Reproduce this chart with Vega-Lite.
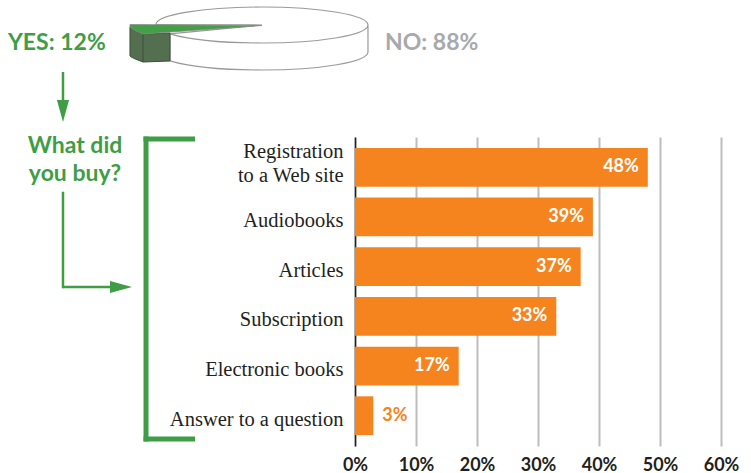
{
  "$schema": "https://vega.github.io/schema/vega-lite/v6.json",
  "width": 366,
  "height": 309,
  "autosize": "none",
  "padding": {"left": 355, "top": 137, "right": 30, "bottom": 27},
  "background": "white",
  "config": {"view": {"stroke": null}},
  "layer": [
    {
      "data": {
        "values": [
          {"item": "Registration to a Web site", "pct": 0.48},
          {"item": "Audiobooks", "pct": 0.39},
          {"item": "Articles", "pct": 0.37},
          {"item": "Subscription", "pct": 0.33},
          {"item": "Electronic books", "pct": 0.17},
          {"item": "Answer to a question", "pct": 0.03}
        ]
      },
      "encoding": {
        "y": {
          "field": "item", "type": "nominal", "sort": null,
          "scale": {"paddingInner": 0.22, "paddingOuter": 0.22},
          "axis": {
            "title": null, "ticks": false, "grid": false,
            "domain": true, "domainColor": "#231f20", "domainWidth": 1.5,
            "labelPadding": 12, "labelFont": "Liberation Serif", "labelFontSize": 20.5,
            "labelColor": "#231f20", "labelLineHeight": 24, "labelLimit": 300,
            "labelOffset": {"condition": {"test": "datum.value == 'Registration to a Web site'", "value": -15}, "value": 4},
            "labelExpr": "datum.label == 'Registration to a Web site' ? ['Registration', 'to a Web site'] : datum.label"
          }
        },
        "x": {
          "field": "pct", "type": "quantitative",
          "scale": {"domain": [0, 0.6], "nice": false, "zero": true},
          "axis": {
            "title": null, "values": [0, 0.1, 0.2, 0.3, 0.4, 0.5, 0.6], "format": ".0%",
            "grid": true, "gridColor": "#bdbdbd", "gridWidth": 2,
            "ticks": false, "domain": false, "labelPadding": 10,
            "labelFont": "Lato", "labelFontWeight": "bold", "labelFontSize": 18,
            "labelColor": "#231f20", "labelFlush": false
          }
        }
      },
      "layer": [
        {"mark": {"type": "bar", "color": "#f5841f"}},
        {
          "transform": [{"filter": "datum.pct >= 0.1"}],
          "mark": {"type": "text", "align": "right", "baseline": "middle", "dx": -9, "font": "Lato", "fontWeight": "bold", "fontSize": 18, "color": "white"},
          "encoding": {"text": {"field": "pct", "type": "quantitative", "format": ".0%"}}
        },
        {
          "transform": [{"filter": "datum.pct < 0.1"}],
          "mark": {"type": "text", "align": "left", "baseline": "middle", "dx": 9, "font": "Lato", "fontWeight": "bold", "fontSize": 18, "color": "#f5841f"},
          "encoding": {"text": {"field": "pct", "type": "quantitative", "format": ".0%"}}
        }
      ]
    },
    {
      "data": {"values": [{}]},
      "layer": [
        {
          "mark": {"type": "point", "filled": true, "opacity": 1, "size": 62500, "fill": "white", "stroke": "#9a9a9a", "strokeWidth": 1.2,
            "shape": "M0.104,-0.104 L-0.744,-0.108 C-0.744,-0.1835 -0.364,-0.248 0.104,-0.248 C0.572,-0.248 0.952,-0.1835 0.952,-0.104 L0.952,0.112 C0.952,0.1915 0.572,0.256 0.104,0.256 C-0.192,0.256 -0.472,0.232 -0.632,0.1832 L-0.632,-0.0328 Z M-0.632,-0.0328 C-0.472,0.016 -0.192,0.04 0.104,0.04 C0.572,0.04 0.952,-0.0245 0.952,-0.104"},
          "encoding": {
            "x": {"datum": -17.38, "type": "quantitative", "scale": {"domain": [0, 60], "nice": false, "zero": false}, "axis": null},
            "y": {"datum": -1.98, "type": "quantitative", "scale": {"domain": [0, 6.18], "nice": false, "zero": false, "reverse": true}, "axis": null}
          }
        },
        {
          "mark": {"type": "point", "filled": true, "opacity": 1, "size": 62500, "fill": "#546f4f", "stroke": "#3d4f3a", "strokeWidth": 1,
            "shape": "M-0.952,-0.088 C-0.936,-0.072 -0.888,-0.048 -0.848,-0.032 L-0.632,-0.04 L-0.632,0.184 L-0.848,0.192 C-0.888,0.176 -0.936,0.16 -0.952,0.144 Z"},
          "encoding": {
            "x": {"datum": -17.38, "type": "quantitative", "scale": {"domain": [0, 60], "nice": false, "zero": false}, "axis": null},
            "y": {"datum": -1.98, "type": "quantitative", "scale": {"domain": [0, 6.18], "nice": false, "zero": false, "reverse": true}, "axis": null}
          }
        },
        {
          "mark": {"type": "point", "filled": false, "opacity": 1, "size": 62500, "stroke": "#3d4f3a", "strokeWidth": 1,
            "shape": "M-0.848,-0.032 L-0.848,0.192"},
          "encoding": {
            "x": {"datum": -17.38, "type": "quantitative", "scale": {"domain": [0, 60], "nice": false, "zero": false}, "axis": null},
            "y": {"datum": -1.98, "type": "quantitative", "scale": {"domain": [0, 6.18], "nice": false, "zero": false, "reverse": true}, "axis": null}
          }
        },
        {
          "mark": {"type": "point", "filled": true, "opacity": 1, "size": 62500, "fill": "#43a047", "stroke": "#8a8a8a", "strokeWidth": 0.8,
            "shape": "M-0.952,-0.108 L0.104,-0.1 L-0.848,-0.032 C-0.888,-0.048 -0.936,-0.072 -0.952,-0.088 Z"},
          "encoding": {
            "x": {"datum": -17.38, "type": "quantitative", "scale": {"domain": [0, 60], "nice": false, "zero": false}, "axis": null},
            "y": {"datum": -1.98, "type": "quantitative", "scale": {"domain": [0, 6.18], "nice": false, "zero": false, "reverse": true}, "axis": null}
          }
        },
        {
          "mark": {"type": "text", "text": "YES: 12%", "align": "left", "baseline": "middle", "font": "Lato", "fontWeight": "bold", "fontSize": 23, "color": "#3f9d45"},
          "encoding": {
            "x": {"datum": -56.89, "type": "quantitative", "scale": {"domain": [0, 60], "nice": false, "zero": false}, "axis": null},
            "y": {"datum": -1.88, "type": "quantitative", "scale": {"domain": [0, 6.18], "nice": false, "zero": false, "reverse": true}, "axis": null}
          }
        },
        {
          "mark": {"type": "text", "text": "NO: 88%", "align": "left", "baseline": "middle", "font": "Lato", "fontWeight": "bold", "fontSize": 23, "color": "#a7a9ac"},
          "encoding": {
            "x": {"datum": 4.92, "type": "quantitative", "scale": {"domain": [0, 60], "nice": false, "zero": false}, "axis": null},
            "y": {"datum": -1.88, "type": "quantitative", "scale": {"domain": [0, 6.18], "nice": false, "zero": false, "reverse": true}, "axis": null}
          }
        },
        {
          "mark": {"type": "text", "text": ["What did", "you buy?"], "align": "center", "baseline": "middle", "lineHeight": 28, "font": "Lato", "fontWeight": "bold", "fontSize": 23, "color": "#3f9d45"},
          "encoding": {
            "x": {"datum": -45.9, "type": "quantitative", "scale": {"domain": [0, 60], "nice": false, "zero": false}, "axis": null},
            "y": {"datum": 0.18, "type": "quantitative", "scale": {"domain": [0, 6.18], "nice": false, "zero": false, "reverse": true}, "axis": null}
          }
        },
        {
          "mark": {"type": "rule", "color": "#3f9d45", "strokeWidth": 2.5},
          "encoding": {
            "x": {"datum": -47.87, "type": "quantitative", "scale": {"domain": [0, 60], "nice": false, "zero": false}, "axis": null},
            "y": {"datum": -1.3, "type": "quantitative", "scale": {"domain": [0, 6.18], "nice": false, "zero": false, "reverse": true}, "axis": null},
            "y2": {"datum": -0.7}
          }
        },
        {
          "mark": {"type": "point", "filled": true, "opacity": 1, "size": 484, "color": "#3f9d45", "shape": "M-0.55,-1 L0.55,-1 L0,1 Z"},
          "encoding": {
            "x": {"datum": -47.87, "type": "quantitative", "scale": {"domain": [0, 60], "nice": false, "zero": false}, "axis": null},
            "y": {"datum": -0.52, "type": "quantitative", "scale": {"domain": [0, 6.18], "nice": false, "zero": false, "reverse": true}, "axis": null}
          }
        },
        {
          "mark": {"type": "rule", "color": "#3f9d45", "strokeWidth": 2.5, "strokeCap": "square"},
          "encoding": {
            "x": {"datum": -47.87, "type": "quantitative", "scale": {"domain": [0, 60], "nice": false, "zero": false}, "axis": null},
            "y": {"datum": 1.12, "type": "quantitative", "scale": {"domain": [0, 6.18], "nice": false, "zero": false, "reverse": true}, "axis": null},
            "y2": {"datum": 3.0}
          }
        },
        {
          "mark": {"type": "rule", "color": "#3f9d45", "strokeWidth": 2.5},
          "encoding": {
            "x": {"datum": -47.87, "type": "quantitative", "scale": {"domain": [0, 60], "nice": false, "zero": false}, "axis": null},
            "x2": {"datum": -39.84},
            "y": {"datum": 3.0, "type": "quantitative", "scale": {"domain": [0, 6.18], "nice": false, "zero": false, "reverse": true}, "axis": null}
          }
        },
        {
          "mark": {"type": "point", "filled": true, "opacity": 1, "size": 484, "color": "#3f9d45", "shape": "M-1,-0.55 L1,0 L-1,0.55 Z"},
          "encoding": {
            "x": {"datum": -38.36, "type": "quantitative", "scale": {"domain": [0, 60], "nice": false, "zero": false}, "axis": null},
            "y": {"datum": 3.0, "type": "quantitative", "scale": {"domain": [0, 6.18], "nice": false, "zero": false, "reverse": true}, "axis": null}
          }
        },
        {
          "mark": {"type": "rule", "color": "#3f9d45", "strokeWidth": 5},
          "encoding": {
            "x": {"datum": -34.26, "type": "quantitative", "scale": {"domain": [0, 60], "nice": false, "zero": false}, "axis": null},
            "y": {"datum": -0.01, "type": "quantitative", "scale": {"domain": [0, 6.18], "nice": false, "zero": false, "reverse": true}, "axis": null},
            "y2": {"datum": 6.09}
          }
        },
        {
          "mark": {"type": "rule", "color": "#3f9d45", "strokeWidth": 5},
          "encoding": {
            "x": {"datum": -34.67, "type": "quantitative", "scale": {"domain": [0, 60], "nice": false, "zero": false}, "axis": null},
            "x2": {"datum": -26.23},
            "y": {"datum": 0.04, "type": "quantitative", "scale": {"domain": [0, 6.18], "nice": false, "zero": false, "reverse": true}, "axis": null}
          }
        },
        {
          "mark": {"type": "rule", "color": "#3f9d45", "strokeWidth": 5},
          "encoding": {
            "x": {"datum": -34.67, "type": "quantitative", "scale": {"domain": [0, 60], "nice": false, "zero": false}, "axis": null},
            "x2": {"datum": -26.23},
            "y": {"datum": 6.04, "type": "quantitative", "scale": {"domain": [0, 6.18], "nice": false, "zero": false, "reverse": true}, "axis": null}
          }
        }
      ]
    }
  ],
  "resolve": {"scale": {"x": "independent", "y": "independent"}, "axis": {"x": "independent", "y": "independent"}}
}
